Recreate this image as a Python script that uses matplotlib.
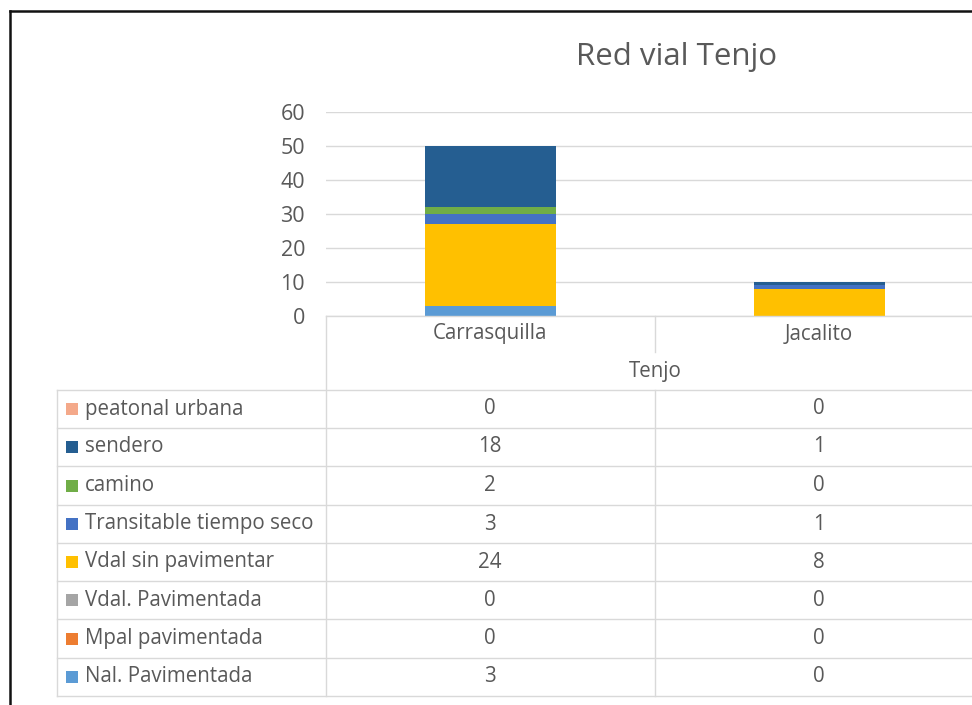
import matplotlib.pyplot as plt
from matplotlib.patches import Rectangle
from matplotlib.lines import Line2D

W, H = 972, 705

categories = ['Carrasquilla', 'Jacalito']
group_label = 'Tenjo'
title = 'Red vial Tenjo'

# series listed bottom -> top of the stack
series_names = ['Nal. Pavimentada', 'Mpal pavimentada', 'Vdal. Pavimentada',
                'Vdal sin pavimentar', 'Transitable tiempo seco', 'camino',
                'sendero', 'peatonal urbana']
nal_pav = [3, 0]
mpal_pav = [0, 0]
vdal_pav = [0, 0]
vdal_sin_pav = [24, 8]
transitable = [3, 1]
camino = [2, 0]
sendero = [18, 1]
peatonal = [0, 0]
series_values = [nal_pav, mpal_pav, vdal_pav, vdal_sin_pav,
                 transitable, camino, sendero, peatonal]
colors = ['#5B9BD5', '#ED7D31', '#A5A5A5', '#FFC000',
          '#4472C4', '#70AD47', '#255E91', '#F4A98A']

yticks = [0, 10, 20, 30, 40, 50, 60]

plt.rcParams['font.family'] = ['Open Sans', 'DejaVu Sans']
txt = '#595959'
grid = '#D9D9D9'
fs = 14.8

fig = plt.figure(figsize=(W / 100, H / 100), dpi=100)


def fx(x):
    return x / W


def fy(y):
    return 1 - y / H


# plot area: x 326 -> 984 (two categories of 329px), y 112 (60) -> 316 (0)
px_left, px_right, px_top, px_bot = 326, 984, 112, 316
ax = fig.add_axes([fx(px_left), fy(px_bot), fx(px_right - px_left),
                   (px_bot - px_top) / H])
ax.set_xlim(-0.5, len(categories) - 0.5)
ax.set_ylim(0, 60)
xs = range(len(categories))
bottom = [0] * len(categories)
for vals, c in zip(series_values, colors):
    ax.bar(xs, vals, width=0.4, bottom=bottom, color=c, zorder=3)
    bottom = [b + v for b, v in zip(bottom, vals)]
ax.set_yticks(yticks)
ax.set_yticklabels([str(t) for t in yticks])
ax.yaxis.grid(True, color=grid, linewidth=1, zorder=0)
ax.set_xticks([])
for s in ax.spines.values():
    s.set_visible(False)
ax.tick_params(axis='y', length=0, pad=15, labelsize=15.5, labelcolor=txt)
ax.patch.set_alpha(0)

# overlay in pixel coordinates for title, table and border
ov = fig.add_axes([0, 0, 1, 1])
ov.set_xlim(0, W)
ov.set_ylim(H, 0)
ov.axis('off')
ov.patch.set_alpha(0)

ov.text(677, 57, title, ha='center', va='center', fontsize=22.5, color=txt)

# category rows
col_left, col_mid = 326, 655
col_centers = [490, 819]
ov.plot([col_left, W], [316, 316], color=grid, lw=1)
ov.plot([col_left, col_left], [316, 696], color=grid, lw=1)
ov.plot([col_mid, col_mid], [316, 352], color=grid, lw=1)
for cx, name in zip(col_centers, categories):
    ov.text(cx, 334, name, ha='center', va='center', fontsize=fs, color=txt)
ov.text(655, 371, group_label, ha='center', va='center', fontsize=fs, color=txt)

# data table
row_y = [390, 428, 466, 505, 543, 581, 619, 658, 696]
for y in row_y:
    ov.plot([57, W], [y, y], color=grid, lw=1)
ov.plot([57, 57], [390, 696], color=grid, lw=1)
ov.plot([col_mid, col_mid], [390, 696], color=grid, lw=1)

table_order = list(range(len(series_names)))[::-1]
for i, si in enumerate(table_order):
    yc = (row_y[i] + row_y[i + 1]) / 2
    ov.add_patch(Rectangle((66, yc - 6), 12, 12, color=colors[si], lw=0))
    ov.text(85, yc, series_names[si], ha='left', va='center',
            fontsize=fs, color=txt)
    for cx, v in zip(col_centers, series_values[si]):
        ov.text(cx, yc, str(v), ha='center', va='center',
                fontsize=fs, color=txt)

# outer frame of the screenshot
fig.add_artist(Line2D([fx(10), fx(10)], [fy(11), 0], color='#111111', lw=1.8))
fig.add_artist(Line2D([fx(10), 1], [fy(11), fy(11)], color='#111111', lw=1.8))

fig.savefig('out.png', dpi=100)
